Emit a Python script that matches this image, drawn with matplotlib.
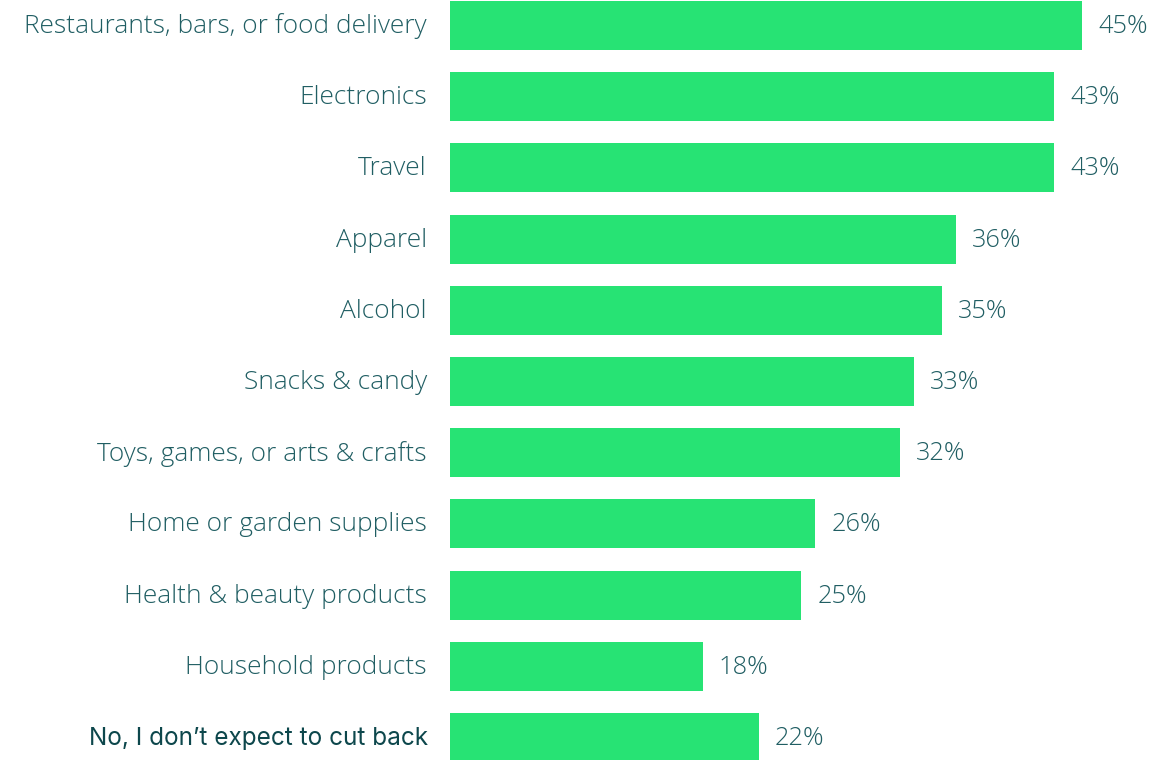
import matplotlib
matplotlib.use("Agg")
import matplotlib.pyplot as plt

categories = [
    "Restaurants, bars, or food delivery",
    "Electronics",
    "Travel",
    "Apparel",
    "Alcohol",
    "Snacks & candy",
    "Toys, games, or arts & crafts",
    "Home or garden supplies",
    "Health & beauty products",
    "Household products",
    "No, I don\u2019t expect to cut back",
]
values = [45, 43, 43, 36, 35, 33, 32, 26, 25, 18, 22]

BAR_COLOR = "#27e374"
TEXT_COLOR = "#205e63"
LAST_COLOR = "#0d474c"

fig = plt.figure(figsize=(11.74, 7.6), dpi=100)
ax = fig.add_axes([450 / 1174, 0, 1 - 450 / 1174, 1])

pos = list(range(len(categories)))
ax.barh(pos, values, height=0.688, color=BAR_COLOR, edgecolor="none")

ax.set_xlim(0, 51.53)
ax.set_ylim(10.316, -0.358)
ax.axis("off")

for i, (cat, v) in enumerate(zip(categories, values)):
    last = i == len(categories) - 1
    if last:
        ax.annotate(cat, xy=(0, i), xytext=(-22, -1), textcoords="offset pixels",
                    ha="right", va="center", fontsize=17.5,
                    family="Inter", fontweight="normal", color=LAST_COLOR)
    else:
        ax.annotate(cat, xy=(0, i), xytext=(-23, -1), textcoords="offset pixels",
                    ha="right", va="center", fontsize=18.9,
                    family="Open Sans", fontweight="light", color=TEXT_COLOR)
    ax.annotate(f"{v}%", xy=(v, i), xytext=(16, -1), textcoords="offset pixels",
                ha="left", va="center", fontsize=18.3,
                family="Open Sans", fontweight="light", color=TEXT_COLOR)

fig.savefig("out.png", dpi=100, facecolor="white")
